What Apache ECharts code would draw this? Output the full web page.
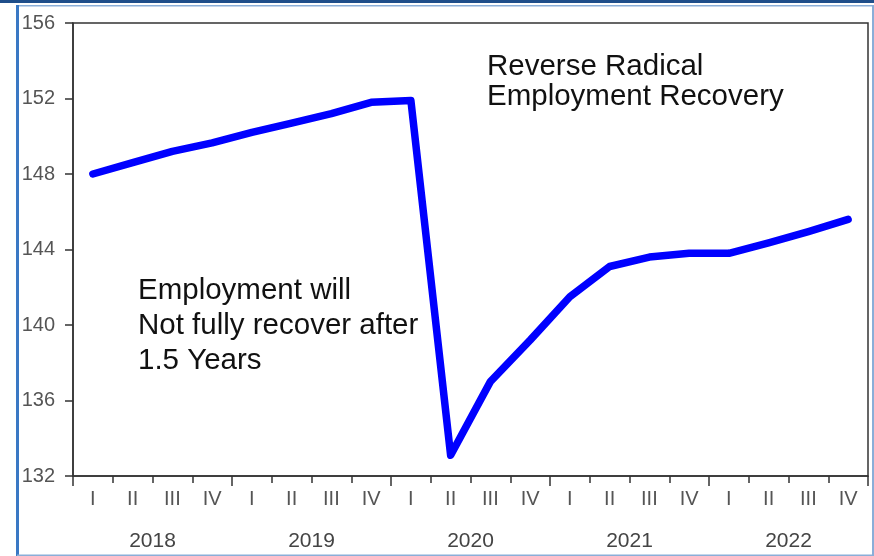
<!DOCTYPE html>
<html>
<head>
<meta charset="utf-8">
<title>Employment</title>
<script src="https://cdn.jsdelivr.net/npm/echarts@6/dist/echarts.min.js"></script>
<style>
  html, body { margin: 0; padding: 0; background: #fff; }
  #chart { width: 874px; height: 556px; }
</style>
</head>
<body>
<div id="chart"></div>
<script>
// quarters and years along the bottom
const quarters = ['I', 'II', 'III', 'IV', 'I', 'II', 'III', 'IV', 'I', 'II', 'III', 'IV',
                  'I', 'II', 'III', 'IV', 'I', 'II', 'III', 'IV'];
const years = ['2018', '2019', '2020', '2021', '2022'];
// employment, millions
const employment = [148.0, 148.6, 149.2, 149.65, 150.2, 150.7, 151.2, 151.8,
                    151.9, 133.1, 137.0, 139.2, 141.5, 143.1, 143.6, 143.8,
                    143.8, 144.35, 144.95, 145.6];
const noteRight = 'Reverse Radical\nEmployment Recovery';
const noteLeft = 'Employment will\nNot fully recover after\n1.5 Years';

const chart = echarts.init(document.getElementById('chart'));
const axisColor = '#333';
const labelColor = '#555';

const option = {
  animation: false,
  grid: {
    left: 73, right: 6, top: 23, bottom: 80,
    show: true, borderColor: axisColor, borderWidth: 1.5, backgroundColor: '#fff'
  },
  xAxis: [{
    type: 'category',
    data: quarters,
    position: 'bottom',
    boundaryGap: true,
    axisLine: { lineStyle: { color: axisColor, width: 1.5 } },
    axisTick: { show: true, interval: 0, length: 7, lineStyle: { color: axisColor, width: 1.5 } },
    axisLabel: { interval: 0, margin: 13, color: labelColor, fontSize: 20, fontFamily: 'Liberation Sans' },
    splitLine: { show: false }
  }, {
    type: 'category',
    data: years,
    position: 'bottom',
    offset: 0,
    boundaryGap: true,
    axisLine: { show: false },
    axisTick: { show: true, interval: 0, length: 10, lineStyle: { color: axisColor, width: 1.5 } },
    axisLabel: { interval: 0, margin: 55, color: '#444', fontSize: 21, fontFamily: 'Liberation Sans' },
    splitLine: { show: false }
  }],
  yAxis: {
    type: 'value',
    min: 132, max: 156, interval: 4,
    axisLine: { show: true, lineStyle: { color: axisColor, width: 1.5 } },
    axisTick: { show: true, length: 8, lineStyle: { color: axisColor, width: 1.5 } },
    axisLabel: { margin: 18, color: labelColor, fontSize: 20, fontFamily: 'Liberation Sans', padding: [0, 0, 8, 0] },
    splitLine: { show: false }
  },
  series: [{
    type: 'line',
    xAxisIndex: 0,
    data: employment,
    symbol: 'none',
    smooth: false,
    lineStyle: { color: '#0000ff', width: 7.5, cap: 'round', join: 'round' }
  }],
  graphic: [
    // outer frame of the slide
    { type: 'rect', shape: { x: 0, y: 0, width: 874, height: 3 }, style: { fill: '#1f4e8a' }, z: 100 },
    { type: 'rect', shape: { x: 17, y: 5, width: 857, height: 1.5 }, style: { fill: '#8aaed8' }, z: 100 },
    { type: 'rect', shape: { x: 16, y: 5, width: 3, height: 551 }, style: { fill: '#3a78c4' }, z: 100 },
    { type: 'rect', shape: { x: 872, y: 5, width: 2, height: 551 }, style: { fill: '#8aaed8' }, z: 100 },
    { type: 'rect', shape: { x: 17, y: 554.5, width: 857, height: 1.5 }, style: { fill: '#8aaed8' }, z: 100 },
    // notes
    {
      type: 'text', left: 487, top: 52, z: 100,
      style: { text: noteRight, fill: '#111', font: '29.5px "Liberation Sans", Arial, sans-serif', lineHeight: 30 }
    },
    {
      type: 'text', left: 138, top: 273, z: 100,
      style: { text: noteLeft, fill: '#111', font: '29.5px "Liberation Sans", Arial, sans-serif', lineHeight: 35 }
    }
  ]
};
chart.setOption(option);
</script>
</body>
</html>
